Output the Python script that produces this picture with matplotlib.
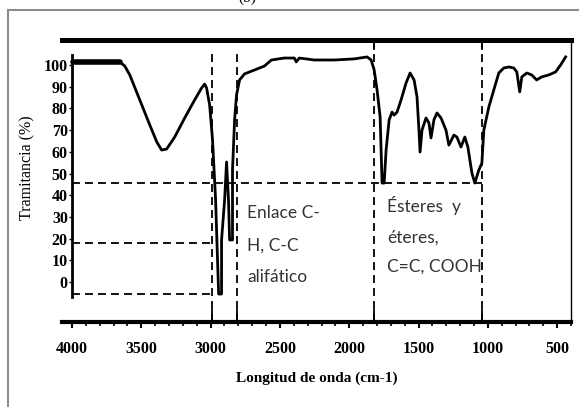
import matplotlib
matplotlib.use("Agg")
import matplotlib.pyplot as plt
from matplotlib.lines import Line2D
from matplotlib.ticker import MultipleLocator

# FTIR trace: wavenumber (cm-1) and transmittance (%)
wavenumber = [3993, 3655, 3619, 3583, 3511, 3439, 3388, 3353, 3317, 3259,
              3187, 3115, 3065, 3043, 3029, 3007, 2986, 2964, 2950, 2942,
              2921, 2921, 2899, 2885, 2871, 2863, 2842, 2842, 2827, 2813,
              2791, 2755, 2683, 2612, 2561, 2468, 2396, 2382, 2360, 2252,
              2108, 1964, 1871, 1842, 1820, 1799, 1777, 1763, 1748, 1734,
              1712, 1691, 1676, 1655, 1626, 1590, 1561, 1532, 1511, 1497,
              1489, 1475, 1446, 1425, 1410, 1389, 1367, 1338, 1302, 1281,
              1245, 1223, 1194, 1166, 1144, 1115, 1094, 1065, 1043, 1029,
              993, 957, 921, 885, 849, 813, 791, 770, 755, 719,
              683, 648, 612, 561, 511, 475, 439]
transmittance = [101.4, 101.4, 99.5, 95.4, 83.9, 72.4, 64.5, 60.8, 61.3, 66.8,
                 75.6, 83.9, 89.4, 91.2, 89.4, 81.6, 65.4, 37.8, 10.1, -5.5,
                 -5.5, 19.4, 37.8, 55.3, 37.8, 19.4, 19.4, 51.6, 74.7, 86.2,
                 93.1, 95.9, 97.7, 99.5, 102.3, 103.2, 103.2, 101.4, 103.2, 102.3,
                 102.3, 102.8, 103.7, 102.3, 97.7, 88.5, 76.0, 45.6, 45.6, 60.8,
                 74.7, 78.3, 76.9, 78.3, 83.9, 91.7, 96.3, 93.1, 85.3, 70.0,
                 59.9, 70.0, 75.6, 73.3, 66.4, 74.7, 77.9, 75.6, 70.0, 63.1,
                 67.7, 66.8, 62.2, 66.8, 62.2, 50.2, 45.6, 51.6, 54.8, 70.0,
                 80.6, 88.5, 96.3, 98.6, 99.1, 98.6, 96.8, 87.6, 94.5, 96.3,
                 95.4, 93.1, 94.5, 95.4, 96.8, 100.0, 103.7]

x_ticks = [4000, 3500, 3000, 2500, 2000, 1500, 1000, 500]
y_ticks = [0, 10, 20, 30, 40, 50, 60, 70, 80, 90, 100]

# band limits marked with dashed guides
band_edges = [2993, 2806, 1820, 1043]
band_levels = [45.6, 18.0, -5.5]

serif = "Liberation Serif"

fig = plt.figure(figsize=(5.79, 4.07), dpi=100)
ax = fig.add_axes([0.1071, 0.2088, 0.8791, 0.6929])

ax.plot(wavenumber, transmittance, color="black", lw=2.0, solid_joinstyle="round")
# the saturated baseline at high wavenumber prints heavier
ax.plot(wavenumber[:2], transmittance[:2], color="black", lw=4.0,
        solid_capstyle="round")

ax.set_xlim(4072, 400)
ax.set_ylim(-18.4, 111.5)

# frame: heavy top/bottom rails, thin right edge, left axis only over the data
ax.spines["top"].set_linewidth(3.6)
ax.spines["bottom"].set_linewidth(3.0)
ax.spines["right"].set_linewidth(1.0)
ax.spines["left"].set_position(("data", 4000))
ax.spines["left"].set_bounds(-7, 104.6)
ax.spines["left"].set_linewidth(2.0)

ax.set_xticks(x_ticks)
ax.set_xticklabels([str(v) for v in x_ticks])
ax.xaxis.set_minor_locator(MultipleLocator(100))
ax.tick_params(axis="x", which="major", length=4, width=1.5, pad=10, labelsize=11.5)
ax.tick_params(axis="x", which="minor", length=3, width=1.2)
ax.set_yticks(y_ticks)
ax.set_yticklabels([str(v) for v in y_ticks])
ax.tick_params(axis="y", length=2, width=1, pad=1, labelsize=11.5)
for lab in ax.get_xticklabels() + ax.get_yticklabels():
    lab.set_family(serif)
    lab.set_fontweight("bold")

ax.set_xlabel("Longitud de onda (cm-1)", family=serif, fontweight="bold",
              fontsize=11, labelpad=10)
ax.set_ylabel("Tramitancia (%)", family=serif, fontsize=11.5)
ax.yaxis.set_label_coords(-0.053, 0.546)

dash = dict(color="black", lw=1.3, linestyle=(0, (4.4, 2.8)))
# vertical band guides
ax.plot([band_edges[0]] * 2, [-18.4, 106], **dash)
ax.plot([band_edges[1]] * 2, [-18.4, 106], **dash)
ax.plot([band_edges[2]] * 2, [-18.4, 111.5], **dash)
ax.plot([band_edges[3]] * 2, [-18.4, 111.5], **dash)
# horizontal guides
ax.plot([4000, band_edges[3]], [band_levels[0]] * 2, **dash)
ax.plot([4000, band_edges[0]], [band_levels[1]] * 2, **dash)
ax.plot([4000, band_edges[0]], [band_levels[2]] * 2, **dash)
# short solid stubs where the guides meet the rails
for e in band_edges:
    ax.plot([e, e], [-18.4, -12.9], color="black", lw=1.3)
for e in band_edges[2:]:
    ax.plot([e, e], [107.5, 111.5], color="black", lw=1.3)

txt = dict(family="Lato", fontsize=12.5, color="#333333", va="center", ha="left")
ax.text(2734, 31.8, "Enlace C-", **txt)
ax.text(2734, 16.6, "H, C-C", **txt)
ax.text(2734, 2.3, "alifático", **txt)
ax.text(1727, 35.5, "Ésteres  y", **txt)
ax.text(1727, 20.7, "éteres,", **txt)
ax.text(1727, 6.9, "C=C, COOH", **txt)

# gray page frame
fig.add_artist(Line2D([8 / 579, 1.0], [1 - 10 / 407] * 2, color="#8c8c8c", lw=1.5))
fig.add_artist(Line2D([8 / 579] * 2, [0.0, 1 - 10 / 407], color="#8c8c8c", lw=1.5))
# panel tag sitting above the page edge
fig.text(247 / 579, 1 - 2 / 407, "(b)", family=serif, fontsize=11,
         ha="center", va="baseline")

fig.savefig("out.png", dpi=100)
